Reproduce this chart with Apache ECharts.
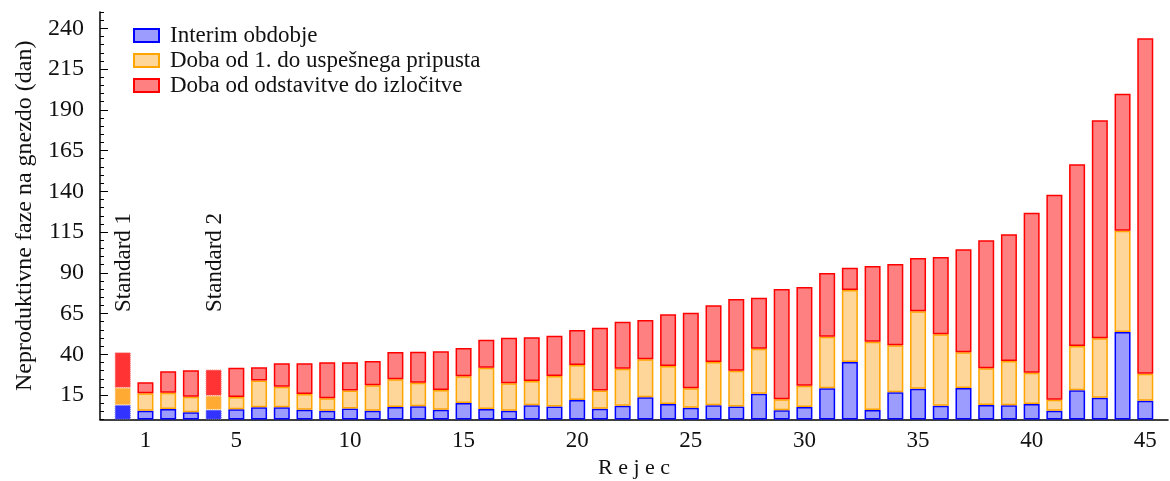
<!DOCTYPE html>
<html>
<head>
<meta charset="utf-8">
<script src="https://cdn.jsdelivr.net/npm/echarts@6/dist/echarts.min.js"></script>
<style>
  html, body { margin: 0; padding: 0; background: #fff; }
  #main { width: 1170px; height: 481px; }
</style>
</head>
<body>
<div id="main"></div>
<script>
var myChart = echarts.init(document.getElementById('main'));

// položaji na osi x (-1 in 46 sta prazna robova), 0 = Standard 1, 4 = Standard 2
var categories = [-1,0,1,2,3,4,5,6,7,8,9,10,11,12,13,14,15,16,17,18,19,20,21,22,23,24,25,26,27,28,29,30,31,32,33,34,35,36,37,38,39,40,41,42,43,44,45,46];
var positions = [0,1,2,3,4,5,6,7,8,9,10,11,12,13,14,15,16,17,18,19,20,21,22,23,24,25,26,27,28,29,30,31,32,33,34,35,36,37,38,39,40,41,42,43,44,45];
var interim = [8.9,5.4,6.4,4.4,6.0,6.3,7.5,7.5,6.0,5.4,6.7,5.4,7.7,8.1,6.0,10.1,6.4,5.4,8.7,7.9,12.0,6.6,8.5,13.6,9.5,7.2,8.7,7.9,15.8,5.6,7.7,19.1,35.3,5.8,16.7,18.8,8.5,19.3,8.9,8.7,9.5,5.4,17.9,13.3,53.7,11.5];
var pripust = [10.6,10.7,10.0,9.6,8.6,7.5,16.5,12.6,9.6,7.6,11.1,15.6,17.0,14.5,12.1,16.4,25.4,16.8,14.9,18.8,21.4,11.2,22.7,23.3,23.3,11.9,26.6,22.0,27.6,6.8,13.0,31.7,44.1,41.9,28.8,47.6,43.8,21.9,22.5,27.2,19.2,6.7,27.2,36.5,62.1,16.6];
var izlocitev = [21.7,6.7,13.2,16.2,16.0,18.0,8.0,14.4,18.9,22.1,17.3,14.9,16.7,19.0,23.7,17.4,17.2,28.0,26.8,24.7,21.5,38.5,28.8,24.1,31.7,46.4,34.8,44.0,31.3,67.7,60.6,39.1,13.7,46.5,49.9,32.7,47.4,63.2,78.5,77.7,98.2,125.8,111.5,133.8,84.1,205.8];
var standardIdx = [0, 4];
var standardNames = ['Standard 1', 'Standard 2'];
var xTicks = [1,5,10,15,20,25,30,35,40,45];
var yTicks = [15,40,65,90,115,140,165,190,215,240];

var seriesNames = ['Interim obdobje', 'Doba od 1. do uspešnega pripusta', 'Doba od odstavitve do izločitve'];
var fills = ['#9c9cff', '#ffd699', '#ff8080'];
var borders = ['#0000ff', '#ffa500', '#ff0000'];
var strongFills = ['#3333ff', '#ffaa33', '#ff3333'];
var strongBorders = ['#6666ff', '#ffc266', '#ff6666'];
var font = 'Liberation Serif';

function buildData(values, k) {
    return categories.map(function (c) {
        var i = positions.indexOf(c);
        if (i < 0) return '-';
        var item = { value: values[i] };
        if (standardIdx.indexOf(i) >= 0) {
            item.itemStyle = { color: strongFills[k], borderColor: strongBorders[k], borderType: 'dotted', borderWidth: 1 };
        }
        return item;
    });
}

var allValues = [interim, pripust, izlocitev];
var series = allValues.map(function (vals, k) {
    return {
        name: seriesNames[k],
        type: 'bar',
        stack: 'total',
        barWidth: 16,
        data: buildData(vals, k),
        itemStyle: { color: fills[k], borderColor: borders[k], borderWidth: 1.5 }
    };
});

option = {
    animation: false,
    textStyle: { fontFamily: font },
    grid: { left: 100, right: 2, top: 12, bottom: 61.5, outerBoundsMode: 'none' },
    legend: {
        orient: 'vertical',
        left: 128,
        top: 19,
        icon: 'rect',
        itemWidth: 25,
        itemHeight: 13,
        itemGap: 2,
        data: seriesNames,
        textStyle: { fontFamily: font, fontSize: 23, color: '#111', padding: [0, 0, 0, 6] }
    },
    xAxis: {
        type: 'category',
        data: categories,
        boundaryGap: false,
        name: 'R e j e c',
        nameLocation: 'middle',
        nameGap: 36,
        nameTextStyle: { fontFamily: font, fontSize: 22, color: '#111' },
        splitLine: { show: false },
        axisLine: { lineStyle: { color: '#000', width: 1.5 } },
        axisTick: { show: false },
        axisLabel: {
            interval: function (index, value) { return xTicks.indexOf(Number(value)) >= 0; },
            fontSize: 23, color: '#111', margin: 10
        }
    },
    yAxis: [{
        type: 'value',
        min: 0,
        max: 250,
        interval: 5,
        name: 'Neproduktivne faze na gnezdo (dan)',
        nameLocation: 'middle',
        nameGap: 62,
        nameTextStyle: { fontFamily: font, fontSize: 24, color: '#111' },
        splitLine: { show: false },
        axisLine: { show: true, lineStyle: { color: '#000', width: 1.5 } },
        axisTick: { show: true, inside: true, length: 4, lineStyle: { color: '#000' } },
        axisLabel: { customValues: yTicks, fontSize: 24, color: '#111', margin: 16 }
    }, {
        type: 'value',
        min: 0,
        max: 250,
        position: 'left',
        splitLine: { show: false },
        axisLine: { show: false },
        axisTick: { show: true, inside: true, length: 8, customValues: yTicks, lineStyle: { color: '#000' } },
        axisLabel: { show: false }
    }],
    series: series
};

myChart.setOption(option);

// napisa nad standardnima stolpcema
var graphics = standardIdx.map(function (idx, j) {
    var p = myChart.convertToPixel({ xAxisIndex: 0, yAxisIndex: 0 }, [categories.indexOf(positions[idx]), 66]);
    return {
        type: 'text',
        x: p[0] + 1,
        y: p[1],
        rotation: Math.PI / 2,
        style: {
            text: standardNames[j],
            fontFamily: font,
            fontSize: 23,
            fill: '#111',
            align: 'left',
            verticalAlign: 'middle'
        }
    };
});
myChart.setOption({ graphic: graphics });
</script>
</body>
</html>
